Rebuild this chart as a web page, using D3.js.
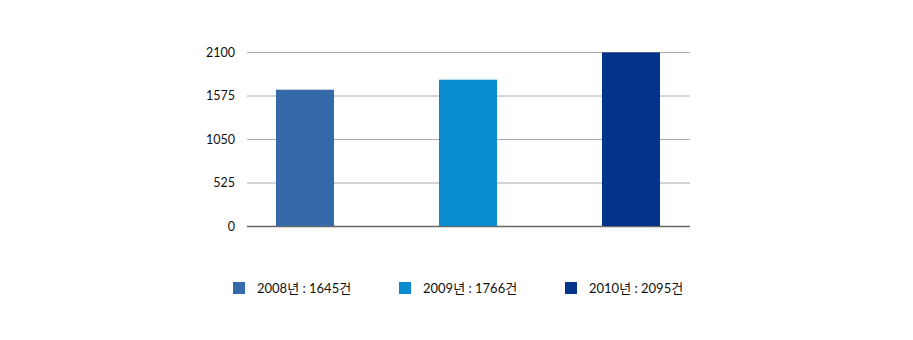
<!DOCTYPE html>
<html lang="ko">
<head>
    <meta charset="UTF-8">
    <title>Bar Chart</title>
    <script src="https://d3js.org/d3.v7.min.js"></script>
    <style>
        body{
            margin: 0;
            background: white;
        }
        svg text{
            font-family: Lato, "Noto Sans CJK KR", sans-serif;
            font-size: 13px;
            fill: #111;
        }
    </style>
</head>
<body>
<svg id="canvas" width="913" height="340"></svg>
<script>
    let years = ["2008년", "2009년", "2010년"]
    let counts = [1645, 1766, 2095]
    let colors = ["#346aa9", "#098bcf", "#03338a"]
    let yTicks = [0, 525, 1050, 1575, 2100]

    let svg = d3.select('#canvas')

    let x = d3.scaleBand()
        .domain(years)
        .range([223.5, 712.5])
        .paddingInner(0.644)
        .paddingOuter(0.322)

    let y = d3.scaleLinear()
        .domain([0, 2100])
        .range([226, 52])

    // gridlines
    svg.append('g')
        .selectAll('line')
        .data(yTicks)
        .enter()
        .append('line')
        .attr('x1', 247)
        .attr('x2', 690)
        .attr('y1', d => y(d) + 0.5)
        .attr('y2', d => y(d) + 0.5)
        .attr('stroke', d => d === 0 ? '#666' : '#aaa')
        .attr('stroke-width', d => d === 0 ? 1.5 : 1)

    // y axis labels
    let yAxis = svg.append('g')
        .attr('transform', 'translate(235,0)')
        .call(d3.axisLeft(y).tickValues(yTicks).tickFormat(d3.format('d')).tickSize(0).tickPadding(0))
    yAxis.select('.domain').remove()
    yAxis.selectAll('text')
        .style('font-family', 'Lato, sans-serif')
        .style('font-size', '12.5px')
        .attr('fill', '#111')

    // bars
    svg.append('g')
        .selectAll('rect')
        .data(counts)
        .enter()
        .append('rect')
        .attr('x', (d, i) => x(years[i]))
        .attr('width', x.bandwidth())
        .attr('y', d => y(d))
        .attr('height', d => y(0) - y(d))
        .attr('fill', (d, i) => colors[i])

    // legend
    let legend = svg.append('g')
        .selectAll('g')
        .data(years)
        .enter()
        .append('g')
        .attr('transform', (d, i) => 'translate(' + (233 + i * 166) + ',282)')
    legend.append('rect')
        .attr('width', 12)
        .attr('height', 12)
        .attr('fill', (d, i) => colors[i])
    legend.append('text')
        .attr('x', 24)
        .attr('y', 11)
        .text((d, i) => d + ' : ' + counts[i] + '건')
</script>
</body>
</html>
